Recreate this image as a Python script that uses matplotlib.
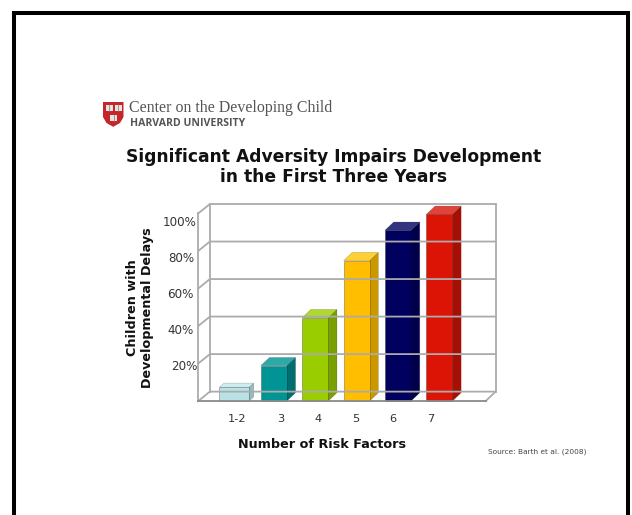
import matplotlib
matplotlib.use("Agg")
import matplotlib.pyplot as plt
from matplotlib.patches import Polygon, Rectangle

# values
categories = ["1-2", "3", "4", "5", "6", "7"]
delays = [7.3, 18.8, 44.4, 74.8, 91, 99.5]
y_ticks = [20, 40, 60, 80, 100]

front_colors = ["#b9e2e6", "#009494", "#9acd00", "#ffbe00", "#00005f", "#dc1405"]
top_colors = ["#cdeef0", "#2fa8a8", "#b0d92f", "#ffd033", "#33337f", "#e0433a"]
side_colors = ["#96bcc0", "#006e6e", "#7a9f00", "#cc9800", "#00004a", "#a80f04"]
bar_widths = [0.72, 0.63, 0.63, 0.63, 0.63, 0.63]
bar_centers = [0.044, 1, 2, 3, 4, 5]
bar_depth = [0.11, 0.21, 0.21, 0.21, 0.21, 0.21]
bar_rise = [2.2, 4.4, 4.4, 4.4, 4.4, 4.4]

WALL_DX = 0.28
WALL_DY = 5.0
RIGHT_DX = 0.24
GRID = "#ababab"
W, H = 632, 515

fig = plt.figure(figsize=(W / 100, H / 100), dpi=100, facecolor="white")

# page overlay in pixel coordinates, for the frame, logo and loose text
page = fig.add_axes([0, 0, 1, 1])
page.set_xlim(0, W)
page.set_ylim(H, 0)
page.axis("off")

ax = fig.add_axes([198.3 / W, (H - 401) / H, 287.4 / W, 187.6 / H])
ax.set_xlim(-0.824, 6.118)
ax.set_ylim(0, 100)
ax.axis("off")

# frame, open at the bottom
page.plot([14, 14, 628, 628], [H + 5, 13, 13, H + 5], color="black", lw=2.9, solid_joinstyle="miter")

# shield
page.add_patch(Polygon([(103, 102), (123.5, 102), (123.5, 117), (120, 123), (113.2, 126.8), (106.5, 123), (103, 117)],
                       closed=True, color="#c4262c", lw=0))
for bx, by in [(105.5, 104.5), (114.5, 104.5), (110, 114.5)]:
    page.add_patch(Rectangle((bx, by), 7, 6, color="#e8e4e0", lw=0))
    page.plot([bx + 3.5, bx + 3.5], [by, by + 6], color="#888888", lw=0.6)

page.text(129, 108.5, "Center on the Developing Child", family="Liberation Serif", fontsize=11.4,
          color="#555555", va="center", ha="left")
page.text(130, 124, "HARVARD UNIVERSITY", family="Open Sans", weight="bold", fontsize=7.6,
          color="#555555", va="center", ha="left")

page.text(333.5, 167, "Significant Adversity Impairs Development\nin the First Three Years",
          family="DejaVu Sans", weight="bold", fontsize=12.35, color="#111111",
          ha="center", va="center", linespacing=1.15)
page.text(322.5, 444, "Number of Risk Factors", weight="bold", fontsize=9.2, color="#111111", ha="center", va="center")
page.text(537, 452, "Source: Barth et al. (2008)", fontsize=5.3, color="#444444", ha="center", va="center")
page.text(140, 308, "Children with\nDevelopmental Delays", weight="bold", fontsize=9.2, color="#111111",
          rotation=90, ha="center", va="center", linespacing=1.1)

# chart box
x0, x1 = ax.get_xlim()
back_right = x1 + RIGHT_DX
for v in [0] + y_ticks:
    ax.plot([x0, x0 + WALL_DX, back_right], [v, v + WALL_DY, v + WALL_DY], color=GRID, lw=1.3, clip_on=False)
ax.plot([x0, x0], [0, 100], color=GRID, lw=1.3, clip_on=False)
ax.plot([x0 + WALL_DX] * 2, [WALL_DY, 100 + WALL_DY], color=GRID, lw=1.3, clip_on=False)
ax.plot([back_right] * 2, [WALL_DY, 100 + WALL_DY], color=GRID, lw=1.3, clip_on=False)
ax.plot([x1, back_right], [0, WALL_DY], color=GRID, lw=1.3, clip_on=False)
ax.plot([x0, x1], [0, 0], color="#8a8a8a", lw=1.3, clip_on=False)

# bars
for i, v in enumerate(delays):
    w = bar_widths[i]
    left = bar_centers[i] - w / 2
    right = left + w
    d, r = bar_depth[i], bar_rise[i]
    ax.add_patch(Polygon([(right, 0), (right + d, r), (right + d, v + r), (right, v)],
                         closed=True, facecolor=side_colors[i], edgecolor="#00000033", lw=0.5, clip_on=False))
    ax.add_patch(Polygon([(left, v), (left + d, v + r), (right + d, v + r), (right, v)],
                         closed=True, facecolor=top_colors[i], edgecolor="#00000033", lw=0.5, clip_on=False))
    ax.add_patch(Rectangle((left, 0), w, v, facecolor=front_colors[i], edgecolor="#00000044", lw=0.7, clip_on=False))

# the tick labels sit a bit lower than the gridlines they name
tick_px = {20: (197, 366), 40: (194, 330), 60: (194, 294), 80: (194, 258), 100: (197, 222.7)}
for t in y_ticks:
    px, py = tick_px[t]
    page.text(px, py, f"{t}%", fontsize=8.6, color="#333333", ha="right", va="center")

for lab, px in zip(categories, [237, 281, 318, 356, 393, 431]):
    page.text(px, 419, lab, fontsize=8.2, color="#333333", ha="center", va="center")

fig.savefig("out.png", dpi=100, facecolor="white")
